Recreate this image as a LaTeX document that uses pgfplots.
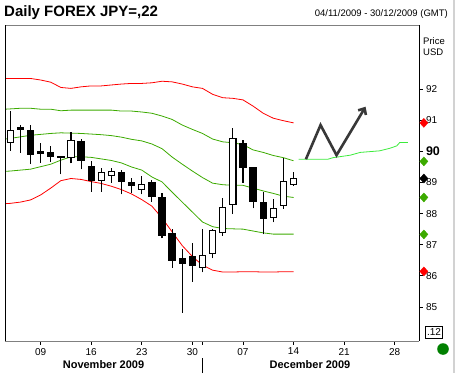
\documentclass[border=0pt]{standalone}
\usepackage{fontspec}
\setmainfont{Liberation Sans}
\usepackage{pgfplots}
\pgfplotsset{compat=1.18}
\usetikzlibrary{arrows.meta}
\definecolor{bandred}{RGB}{255,0,0}
\definecolor{bandgreen}{RGB}{60,170,0}
\definecolor{projgreen}{RGB}{60,235,60}
\definecolor{darkgreen}{RGB}{0,128,0}
% candle: i, open, high, low, close, fill colour
\newcommand{\candle}[6]{%
  \pgfmathsetmacro\xl{#1-0.31}%
  \pgfmathsetmacro\xr{#1+0.31}%
  \edef\tmpplot{%
    \noexpand\addplot[draw=black, line width=1.1pt, forget plot] coordinates {(#1,#4) (#1,#3)};
    \noexpand\addplot[draw=black, fill=#6, line width=1.1pt, line join=miter, forget plot] coordinates {(\xl,#2) (\xr,#2) (\xr,#5) (\xl,#5)} -- cycle;
  }\tmpplot}
\newcommand{\upc}[5]{\candle{#1}{#2}{#3}{#4}{#5}{white}}
\newcommand{\dnc}[5]{\candle{#1}{#2}{#3}{#4}{#5}{black}}
\begin{document}
\begin{tikzpicture}
\useasboundingbox (0,0) rectangle (455pt,373pt);
\begin{axis}[
  at={(5pt,32pt)}, anchor=south west,
  scale only axis, width=414pt, height=316pt,
  xmin=-0.52, xmax=40.4, ymin=83.90, ymax=94.07,
  clip=false,
  axis line style={draw=none},
  tick align=outside, major tick length=3.5pt,
  tick style={black, line width=0.6pt},
  xtick={3,8,13,18,23,28,33,38},
  xticklabels={09,16,23,30,07,14,21,28},
  extra x ticks={18.95}, extra x tick labels={},
  xtick pos=lower,
  xticklabel style={font=\fontsize{10}{12}\selectfont},
  ytick={85,86,87,88,89,90,91,92},
  yticklabels={85,86,87,88,89,{\textbf{\fontsize{12.5}{14}\selectfont 90}},91,92},
  ytick pos=right, yticklabel pos=right,
  yticklabel style={font=\fontsize{10}{12}\selectfont, anchor=west},
]
% bands
\addplot[bandred, line width=0.8pt] coordinates {(-0.5,92.35) (0,92.35) (1,92.35) (2,92.35) (3,92.30) (4,92.23) (5,92.06) (6,92.03) (7,92.08) (8,92.11) (9,92.11) (10,92.14) (11,92.17) (12,92.19) (13,92.19) (14,92.21) (15,92.26) (16,92.24) (17,92.17) (18,92.08) (19,92.03) (20,91.84) (21,91.73) (22,91.71) (23,91.66) (24,91.46) (25,91.23) (26,91.07) (27,90.99) (28,90.92)};
\addplot[bandgreen, line width=0.8pt] coordinates {(-0.5,91.36) (0,91.37) (1,91.39) (2,91.39) (3,91.36) (4,91.36) (5,91.31) (6,91.33) (7,91.33) (8,91.33) (9,91.33) (10,91.33) (11,91.30) (12,91.30) (13,91.27) (14,91.23) (15,91.14) (16,91.03) (17,90.85) (18,90.71) (19,90.58) (20,90.40) (21,90.31) (22,90.28) (23,90.22) (24,90.05) (25,89.97) (26,89.87) (27,89.80) (28,89.70)};
\addplot[bandgreen, line width=0.8pt] coordinates {(-0.5,90.40) (0,90.42) (1,90.47) (2,90.52) (3,90.55) (4,90.58) (5,90.60) (6,90.59) (7,90.58) (8,90.56) (9,90.54) (10,90.51) (11,90.46) (12,90.39) (13,90.34) (14,90.24) (15,90.09) (16,89.82) (17,89.59) (18,89.37) (19,89.16) (20,88.98) (21,88.93) (22,88.91) (23,88.91) (24,88.82) (25,88.73) (26,88.65) (27,88.56) (28,88.52)};
\addplot[bandgreen, line width=0.8pt] coordinates {(-0.5,89.36) (0,89.37) (1,89.40) (2,89.43) (3,89.51) (4,89.59) (5,89.72) (6,89.83) (7,89.83) (8,89.81) (9,89.76) (10,89.71) (11,89.63) (12,89.50) (13,89.40) (14,89.18) (15,89.02) (16,88.69) (17,88.37) (18,88.05) (19,87.73) (20,87.58) (21,87.52) (22,87.51) (23,87.50) (24,87.44) (25,87.38) (26,87.34) (27,87.34) (28,87.34)};
\addplot[bandred, line width=0.8pt] coordinates {(-0.5,88.32) (0,88.33) (1,88.37) (2,88.44) (3,88.60) (4,88.82) (5,89.06) (6,89.13) (7,89.10) (8,89.03) (9,88.97) (10,88.88) (11,88.77) (12,88.63) (13,88.45) (14,88.24) (15,87.86) (16,87.41) (17,86.97) (18,86.62) (19,86.34) (20,86.18) (21,86.12) (22,86.12) (23,86.13) (24,86.13) (25,86.12) (26,86.12) (27,86.13) (28,86.13)};
% projection
\addplot[projgreen, line width=0.8pt] coordinates {(28.5,89.75) (31.4,89.75) (31.9,89.80) (33.6,89.88) (34.6,89.97) (36.5,90.02) (37.5,90.10) (38.2,90.18) (38.5,90.29) (39.3,90.29)};
% candles: i, open, high, low, close
\upc{0}{90.29}{91.30}{90.02}{90.68}
\dnc{1}{90.77}{90.85}{89.96}{90.70}
\dnc{2}{90.68}{90.85}{89.59}{89.91}
\dnc{3}{89.99}{90.26}{89.64}{89.95}
\dnc{4}{89.95}{90.16}{89.67}{89.84}
\dnc{5}{89.85}{89.87}{89.26}{89.81}
\upc{6}{89.81}{90.62}{89.62}{90.36}
\dnc{7}{90.33}{90.39}{89.42}{89.70}
\dnc{8}{89.53}{89.70}{88.70}{89.08}
\upc{9}{89.07}{89.46}{88.70}{89.33}
\upc{10}{89.23}{89.46}{88.99}{89.36}
\dnc{11}{89.33}{89.40}{88.62}{89.02}
\dnc{12}{88.99}{89.15}{88.65}{88.91}
\upc{13}{88.79}{89.21}{88.62}{88.95}
\dnc{14}{88.99}{89.08}{88.38}{88.56}
\dnc{15}{88.52}{88.65}{87.20}{87.29}
\dnc{16}{87.36}{87.49}{86.26}{86.48}
\dnc{17}{86.55}{86.87}{84.81}{86.40}
\dnc{18}{86.63}{87.06}{85.81}{86.32}
\upc{19}{86.27}{87.52}{86.11}{86.64}
\upc{20}{86.72}{87.49}{86.56}{87.46}
\upc{21}{87.40}{88.49}{87.29}{88.20}
\upc{22}{88.30}{90.74}{87.98}{90.42}
\dnc{23}{90.24}{90.37}{89.00}{89.48}
\dnc{24}{89.49}{89.51}{88.17}{88.38}
\dnc{25}{88.36}{88.68}{87.33}{87.83}
\upc{26}{87.87}{88.47}{87.72}{88.17}
\upc{27}{88.27}{89.80}{88.16}{89.04}
\upc{28}{88.95}{89.33}{88.90}{89.13}
% zigzag arrow
\addplot[draw=black!78, line width=2.6pt, line join=miter, -{Straight Barb[length=5pt,width=9pt]}] coordinates {(29.22,89.75) (30.67,90.85) (32.25,89.88) (35.12,91.44)};
% frame
\draw[gray] (rel axis cs:0,1) -- (rel axis cs:1,1);
\draw[gray] (rel axis cs:0,0) -- (rel axis cs:1,0);
\draw[black, line width=0.8pt] (rel axis cs:0,0) -- (rel axis cs:0,1);
\draw[black, line width=0.8pt] (rel axis cs:1,0) -- (rel axis cs:1,1);
% last-value markers
\addplot[only marks, mark=diamond*, mark size=4.5pt, bandred, mark options={xscale=1.2}] coordinates {(40.88,90.92) (40.88,86.14)};
\addplot[only marks, mark=diamond*, mark size=4.5pt, bandgreen, mark options={xscale=1.2}] coordinates {(40.88,89.68) (40.88,88.52) (40.88,87.33)};
\addplot[only marks, mark=diamond*, mark size=4.5pt, black, mark options={xscale=1.2}] coordinates {(40.88,89.13)};
\end{axis}
\node[anchor=west, inner sep=0, font=\bfseries\fontsize{15}{18}\selectfont] at (4pt,360pt) {Daily FOREX JPY=,22};
\node[anchor=east, inner sep=0, font=\fontsize{9.5}{11}\selectfont] at (448pt,358.5pt) {04/11/2009 - 30/12/2009 (GMT)};
\node[anchor=west, inner sep=0, font=\fontsize{9.5}{11}\selectfont] at (423pt,332pt) {Price};
\node[anchor=west, inner sep=0, font=\fontsize{9.5}{11}\selectfont] at (423pt,321pt) {USD};
\node[inner sep=0, font=\bfseries\fontsize{11}{13}\selectfont] at (103.5pt,8.7pt) {November 2009};
\node[inner sep=0, font=\bfseries\fontsize{11}{13}\selectfont] at (310pt,8.7pt) {December 2009};
\draw[black, line width=0.8pt] (202pt,0pt) -- (202pt,15pt);
\node[draw, line width=0.6pt, inner sep=0, minimum width=16.5pt, minimum height=12.3pt, font=\fontsize{10}{12}\selectfont] at (434pt,41pt) {.12};
\fill[darkgreen] (443pt,24pt) circle (5.8pt);
\fill[gray!35] (452.5pt,0pt) rectangle (455pt,373pt);
\end{tikzpicture}
\end{document}
